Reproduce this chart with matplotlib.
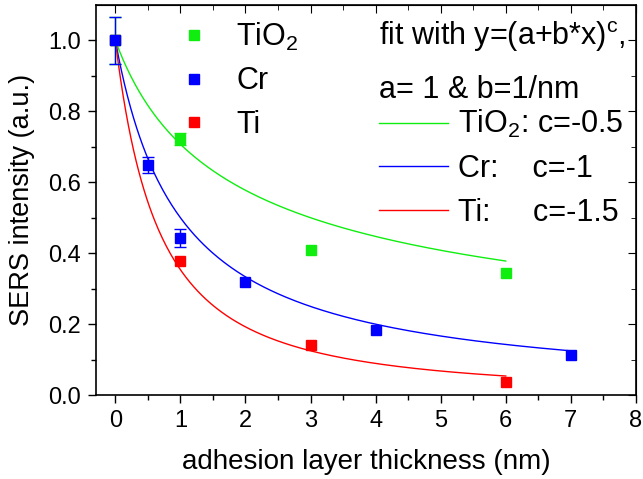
import numpy as np
import matplotlib
matplotlib.use("Agg")
import matplotlib.pyplot as plt
from matplotlib.lines import Line2D

plt.rcParams['font.family'] = ['Liberation Sans', 'DejaVu Sans']
plt.rcParams['mathtext.fontset'] = 'custom'
plt.rcParams['mathtext.rm'] = 'Liberation Sans'

# measured points (nan = no error bar)
tio2_x = [0, 1, 3, 6]
tio2_y = [1.0, 0.722, 0.41, 0.344]
tio2_err = [0.067, 0.018, np.nan, np.nan]

cr_x = [0, 0.5, 1, 2, 4, 7]
cr_y = [1.0, 0.649, 0.443, 0.32, 0.183, 0.114]
cr_err = [0.067, 0.022, 0.025, np.nan, np.nan, np.nan]

ti_x = [0, 1, 3, 6]
ti_y = [1.0, 0.379, 0.14, 0.037]

# fit y=(a+b*x)^c
fit_a = 1.0
fit_b = 1.0
fit_c = {'TiO2': -0.5, 'Cr': -1.0, 'Ti': -1.5}
fit_xmax = {'TiO2': 6, 'Cr': 7, 'Ti': 6}

green = '#10ee10'
blue = '#0000ff'
red = '#ff0000'
colors = {'TiO2': green, 'Cr': blue, 'Ti': red}

fig = plt.figure(figsize=(6.43, 4.79), dpi=100)
ax = fig.add_axes([0.149, 0.175, 0.840, 0.815])

for name in ['TiO2', 'Cr', 'Ti']:
    xx = np.linspace(0, fit_xmax[name], 300)
    ax.plot(xx, (fit_a + fit_b * xx) ** fit_c[name], color=colors[name], lw=1)

ms = 6.5
ax.errorbar(tio2_x, tio2_y, yerr=tio2_err, fmt='s', color=green, ms=ms,
            capsize=4, elinewidth=1, capthick=1)
ax.plot(ti_x, ti_y, 's', color=red, ms=ms)
ax.errorbar(cr_x, cr_y, yerr=cr_err, fmt='s', color=blue, ms=ms,
            capsize=4, elinewidth=1, capthick=1)

ax.set_xlim(-0.3, 8)
ax.set_ylim(0, 1.1)
ax.set_xticks(range(0, 9))
ax.set_yticks([0.0, 0.2, 0.4, 0.6, 0.8, 1.0])
ax.set_xticks(np.arange(0.5, 8, 1), minor=True)
ax.set_yticks(np.arange(0.1, 1.1, 0.2), minor=True)
ax.yaxis.set_major_formatter(matplotlib.ticker.FormatStrFormatter('%.1f'))
ax.tick_params(which='major', direction='out', length=6, width=1, labelsize=17, pad=5)
ax.tick_params(which='minor', direction='out', length=3.5, width=1)
for s in ax.spines.values():
    s.set_linewidth(1.2)

top = ax.secondary_xaxis('top')
top.set_xticks(range(0, 9))
top.set_xticks(np.arange(0.5, 8, 1), minor=True)
top.tick_params(which='major', direction='in', length=6, labeltop=False)
top.tick_params(which='minor', direction='in', length=3.5)
right = ax.secondary_yaxis('right')
right.set_yticks([0.0, 0.2, 0.4, 0.6, 0.8, 1.0])
right.set_yticks(np.arange(0.1, 1.1, 0.2), minor=True)
right.tick_params(which='major', direction='in', length=6, labelright=False)
right.tick_params(which='minor', direction='in', length=3.5)

ax.set_xlabel('adhesion layer thickness (nm)', fontsize=20, labelpad=12)
ax.set_ylabel('SERS intensity (a.u.)', fontsize=19.5, labelpad=9)

# marker legend
mk_handles = [Line2D([], [], ls='none', marker='s', ms=ms, color=colors[n]) for n in ['TiO2', 'Cr', 'Ti']]
mk_labels = ['TiO$_\\mathregular{2}$', 'Cr', 'Ti']
leg1 = ax.legend(mk_handles, mk_labels, loc='upper left', bbox_to_anchor=(0.159, 0.96),
                 frameon=False, fontsize=22, handlelength=0.8, handletextpad=0.98,
                 labelspacing=0.45, borderaxespad=0.0, borderpad=0.0)
ax.add_artist(leg1)

# fit legend
ln_handles = [Line2D([], [], color=colors[n], lw=1) for n in ['TiO2', 'Cr', 'Ti']]
ln_labels = ['TiO$_\\mathregular{2}$: c=-0.5', 'Cr:    c=-1', 'Ti:     c=-1.5']
ax.legend(ln_handles, ln_labels, loc='upper left', bbox_to_anchor=(0.524, 0.735),
          frameon=False, fontsize=22, handlelength=2.25, handletextpad=0.33,
          labelspacing=0.45, borderaxespad=0.0, borderpad=0.0)

ax.text(0.524, 0.897, 'fit with y=(a+b*x)$^\\mathregular{c}$,', transform=ax.transAxes,
        fontsize=22, va='baseline', ha='left')
ax.text(0.524, 0.762, 'a= 1 & b=1/nm', transform=ax.transAxes,
        fontsize=22, va='baseline', ha='left')

fig.savefig('out.png', dpi=100)
